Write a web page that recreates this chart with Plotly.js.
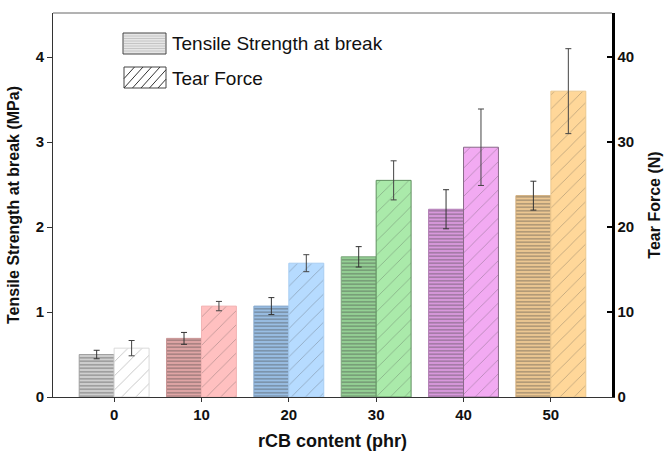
<!DOCTYPE html>
<html>
<head>
<meta charset="utf-8">
<script src="https://cdn.plot.ly/plotly-3.0.1.min.js"></script>
<style>html,body{margin:0;padding:0;background:#fff;}#chart{width:667px;height:451px;}</style>
</head>
<body>
<div id="chart"></div>
<script>
// Data
const categories = ['0', '10', '20', '30', '40', '50'];
const tensileStrength = [0.50, 0.69, 1.07, 1.65, 2.21, 2.37];   // MPa
const tensileError = [0.05, 0.07, 0.10, 0.12, 0.23, 0.17];
const tearForce = [5.75, 10.7, 15.75, 25.5, 29.4, 36.0];         // N
const tearError = [0.9, 0.55, 1.0, 2.3, 4.5, 5.0];

// Styles
const tensileColors = ['#cfcfcf', '#e0a5a5', '#99bee4', '#94d094', '#d898dc', '#ecc792'];
const tensileFg = ['#b0b0b0', '#c79090', '#85a9cd', '#82ba82', '#be84c2', '#cfad7a'];
const tensileLine = ['#a0a0a0', '#c89292', '#86a8cc', '#7aa67a', '#b07cb4', '#cfaa78'];
const tearColors = ['#ffffff', '#ffc0c0', '#b6dbff', '#aaeaaa', '#f2aaf2', '#ffd799'];
const tearFg = ['#d6d6d6', '#eaa8a8', '#9cc2e8', '#94d294', '#d894d8', '#e2bc80'];
const tearLine = ['#dadada', '#f2b4b4', '#a8cdf2', '#5f8f5f', '#8a6a8a', '#ecc88e'];

const FONT = 'Liberation Sans, Arial, sans-serif';

const traces = [
  {
    type: 'bar', name: 'Tensile Strength at break',
    x: categories, y: tensileStrength, yaxis: 'y',
    offset: -0.4, width: 0.4,
    marker: {
      color: tensileColors,
      line: {color: tensileLine, width: 1},
      pattern: {shape: '-', fgcolor: tensileFg, size: 3.5, solidity: 0.35, fillmode: 'overlay'}
    },
    error_y: {type: 'data', array: tensileError, visible: true, color: '#333', thickness: 1, width: 3},
    showlegend: false
  },
  {
    type: 'bar', name: 'Tear Force',
    x: categories, y: tearForce, yaxis: 'y2',
    offset: 0, width: 0.4,
    marker: {
      color: tearColors,
      line: {color: tearLine, width: 1},
      pattern: {shape: '/', fgcolor: tearFg, size: 10, solidity: 0.06, fillmode: 'overlay'}
    },
    error_y: {type: 'data', array: tearError, visible: true, color: '#444', thickness: 1, width: 3},
    showlegend: false
  }
];

// Legend drawn as shapes in paper coordinates
const L = 53, R = 612, T = 13, B = 397;
const px = v => (v - L) / (R - L);
const py = v => (B - v) / (B - T);
const shapes = [
  {type: 'line', xref: 'paper', yref: 'paper', x0: 0, x1: 1, y0: 1, y1: 1, line: {color: '#666', width: 1}}
];
// Legend swatch 1: horizontal stripes
shapes.push({type: 'rect', xref: 'paper', yref: 'paper', x0: px(123), x1: px(166), y0: py(54), y1: py(33),
  fillcolor: '#e6e6e6', line: {color: '#444', width: 1}});
for (let yy = 36; yy <= 52; yy += 2.5) {
  shapes.push({type: 'line', xref: 'paper', yref: 'paper', x0: px(124), x1: px(165), y0: py(yy), y1: py(yy),
    line: {color: '#bdbdbd', width: 0.8}});
}
// Legend swatch 2: diagonal hatch
shapes.push({type: 'rect', xref: 'paper', yref: 'paper', x0: px(124), x1: px(166), y0: py(88), y1: py(67),
  fillcolor: '#ffffff', line: {color: '#444', width: 1}});
for (let k = -1; k < 6; k++) {
  let xa = 124 + k * 8.5, xb = xa + 19;
  let ya = 88, yb = 67;
  let x0 = xa, y0 = ya, x1 = xb, y1 = yb;
  if (x0 < 124) { y0 = ya - (124 - xa) * (21 / 19); x0 = 124; }
  if (x1 > 166) { y1 = ya - (166 - xa) * (21 / 19); x1 = 166; }
  if (x1 <= x0) continue;
  shapes.push({type: 'line', xref: 'paper', yref: 'paper', x0: px(x0), x1: px(x1), y0: py(y0), y1: py(y1),
    line: {color: '#333', width: 1}});
}

const annotations = [
  {xref: 'paper', yref: 'paper', x: px(170), y: py(44), xanchor: 'left', yanchor: 'middle', showarrow: false,
   text: 'Tensile Strength at break', font: {family: FONT, size: 19, color: '#111'}},
  {xref: 'paper', yref: 'paper', x: px(170), y: py(78), xanchor: 'left', yanchor: 'middle', showarrow: false,
   text: 'Tear Force', font: {family: FONT, size: 19, color: '#111'}}
];

const layout = {
  width: 667, height: 451,
  margin: {l: 53, r: 55, t: 13, b: 54},
  paper_bgcolor: '#fff', plot_bgcolor: '#fff',
  font: {family: FONT, color: '#111'},
  bargap: 0, barmode: 'overlay',
  xaxis: {
    type: 'category', range: [-0.7, 5.7],
    showline: true, linecolor: '#333', linewidth: 1,
    ticks: 'outside', ticklen: 4, tickcolor: '#333',
    tickfont: {family: FONT, size: 15, weight: 'bold', color: '#111'},
    showgrid: false, zeroline: false,
    title: {text: 'rCB content (phr)', font: {family: FONT, size: 18, weight: 'bold', color: '#111'}, standoff: 12}
  },
  yaxis: {
    range: [0, 4.52], dtick: 1, tick0: 0,
    showline: true, linecolor: '#333', linewidth: 1,
    ticks: 'outside', ticklen: 5, tickcolor: '#333',
    tickfont: {family: FONT, size: 15, weight: 'bold', color: '#111'},
    showgrid: false, zeroline: false,
    title: {text: 'Tensile Strength at break (MPa)', font: {family: FONT, size: 16, weight: 'bold', color: '#111'}, standoff: 12}
  },
  yaxis2: {
    overlaying: 'y', side: 'right',
    range: [0, 45.2], dtick: 10, tick0: 0,
    showline: true, linecolor: '#000', linewidth: 2.5,
    ticks: 'inside', ticklen: 5, tickwidth: 2.5, tickcolor: '#000',
    tickfont: {family: FONT, size: 15, weight: 'bold', color: '#111'},
    showgrid: false, zeroline: false,
    title: {text: 'Tear Force (N)', font: {family: FONT, size: 16, weight: 'bold', color: '#111'}, standoff: 16}
  },
  shapes: shapes,
  annotations: annotations,
  showlegend: false
};

Plotly.newPlot('chart', traces, layout, {displayModeBar: false, staticPlot: true});
</script>
</body>
</html>
